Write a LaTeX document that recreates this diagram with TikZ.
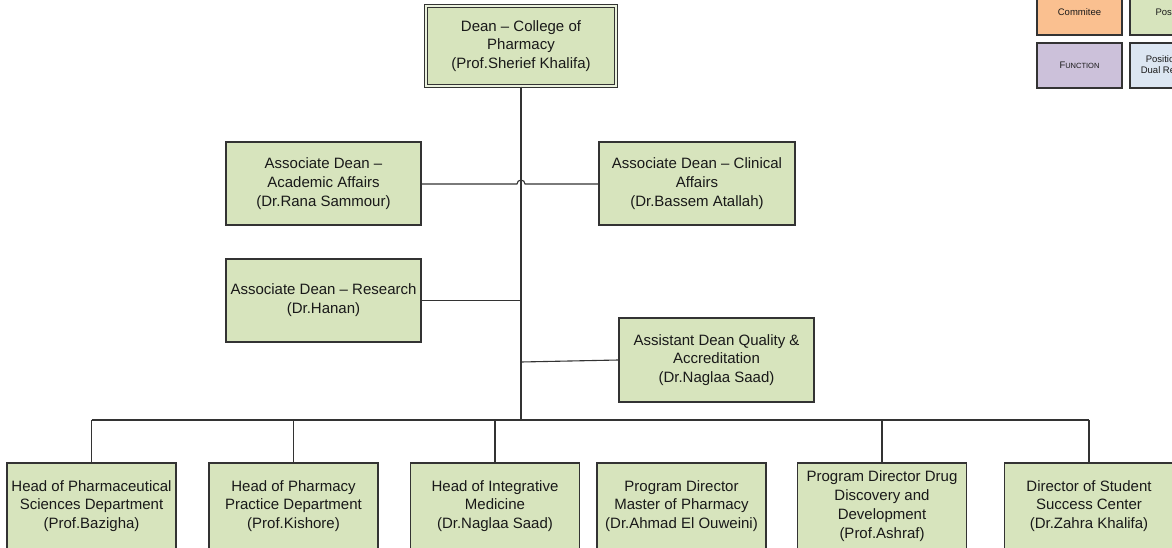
\documentclass[tikz,border=0pt]{standalone}
\usepackage{fontspec}
\setmainfont{Liberation Sans}
\definecolor{boxgreen}{HTML}{D7E4BD}
\definecolor{boxorange}{HTML}{FAC090}
\definecolor{boxpurple}{HTML}{CCC1DA}
\definecolor{boxblue}{HTML}{DCE6F2}
\definecolor{edge}{HTML}{333333}
\begin{document}
\begin{tikzpicture}[x=1pt,y=-1pt,
  box/.style={draw=edge, fill=boxgreen, line width=1.1pt, rectangle, align=center,
    inner sep=0pt, font=\fontsize{15}{18.8}\selectfont, text=black!90},
  bottombox/.style={box, minimum width=169, minimum height=86},
  legend/.style={draw=edge, line width=1.1pt, rectangle, align=center, inner sep=0pt,
    minimum width=85, minimum height=45, font=\fontsize{9.5}{10.5}\selectfont, text=black!90},
  conn/.style={draw=edge, line width=1.1pt}]
\useasboundingbox (0,0) rectangle (1172,548);
\clip (0,0) rectangle (1172,548);

% Dean
\node[box, double=boxgreen!50!white, double distance=1.6pt, line width=1pt, minimum width=190.4, minimum height=80.4] (dean) at (521,46)
  {Dean -- College of\\Pharmacy\\(Prof.Sherief Khalifa)};

% Associate deans
\node[box, minimum width=195, minimum height=83] (aa) at (323.5,183.5)
  {Associate Dean --\\Academic Affairs\\(Dr.Rana Sammour)};
\node[box, minimum width=196, minimum height=83] (ac) at (697,183.5)
  {Associate Dean -- Clinical\\Affairs\\(Dr.Bassem Atallah)};
\node[box, minimum width=195, minimum height=83] (ar) at (323.5,300.5)
  {Associate Dean -- Research\\(Dr.Hanan)};
\node[box, minimum width=195, minimum height=84] (aq) at (716.5,360)
  {Assistant Dean Quality \&\\Accreditation\\(Dr.Naglaa Saad)};

% Bottom row
\node[bottombox] (b1) at (91.5,506) {Head of Pharmaceutical\\Sciences Department\\(Prof.Bazigha)};
\node[bottombox] (b2) at (293.5,506) {Head of Pharmacy\\Practice Department\\(Prof.Kishore)};
\node[bottombox] (b3) at (495,506) {Head of Integrative\\Medicine\\(Dr.Naglaa Saad)};
\node[bottombox] (b4) at (681.5,506) {Program Director\\Master of Pharmacy\\(Dr.Ahmad El Ouweini)};
\node[bottombox] (b5) at (882,506) {Program Director Drug\\Discovery and\\Development\\(Prof.Ashraf)};
\node[bottombox] (b6) at (1089,506) {Director of Student\\Success Center\\(Dr.Zahra Khalifa)};

% Legend
\node[legend, fill=boxorange] (lc) at (1079.5,12.5) {Commitee};
\node[legend, fill=boxgreen] (lp) at (1172.5,12.5) {Position};
\node[legend, fill=boxpurple] (lf) at (1079.5,65.5) {F{\fontsize{7.5}{9}\selectfont UNCTION}};
\node[legend, fill=boxblue] (ld) at (1172.5,65.5) {Position with\\Dual Reporting};

% Connectors
\coordinate (bus) at (521,420);
\coordinate (hop) at (521,184);
\coordinate (qj) at (521,362);
\draw[conn] (dean.south) -- (bus);
\draw[conn] (aa.east |- hop) -- ([xshift=-4pt]hop) arc[start angle=180, end angle=0, radius=4pt] -- (ac.west |- hop);
\draw[conn] (ar.east) -- (ar.east -| bus);
\draw[conn] (qj) -- (aq.west);
\draw[conn] (b1.north |- bus) -- (b6.north |- bus);
\foreach \b in {b1,b2,b3,b5,b6} {
  \draw[conn] (\b.north) -- (\b.north |- bus);
}
\end{tikzpicture}
\end{document}
